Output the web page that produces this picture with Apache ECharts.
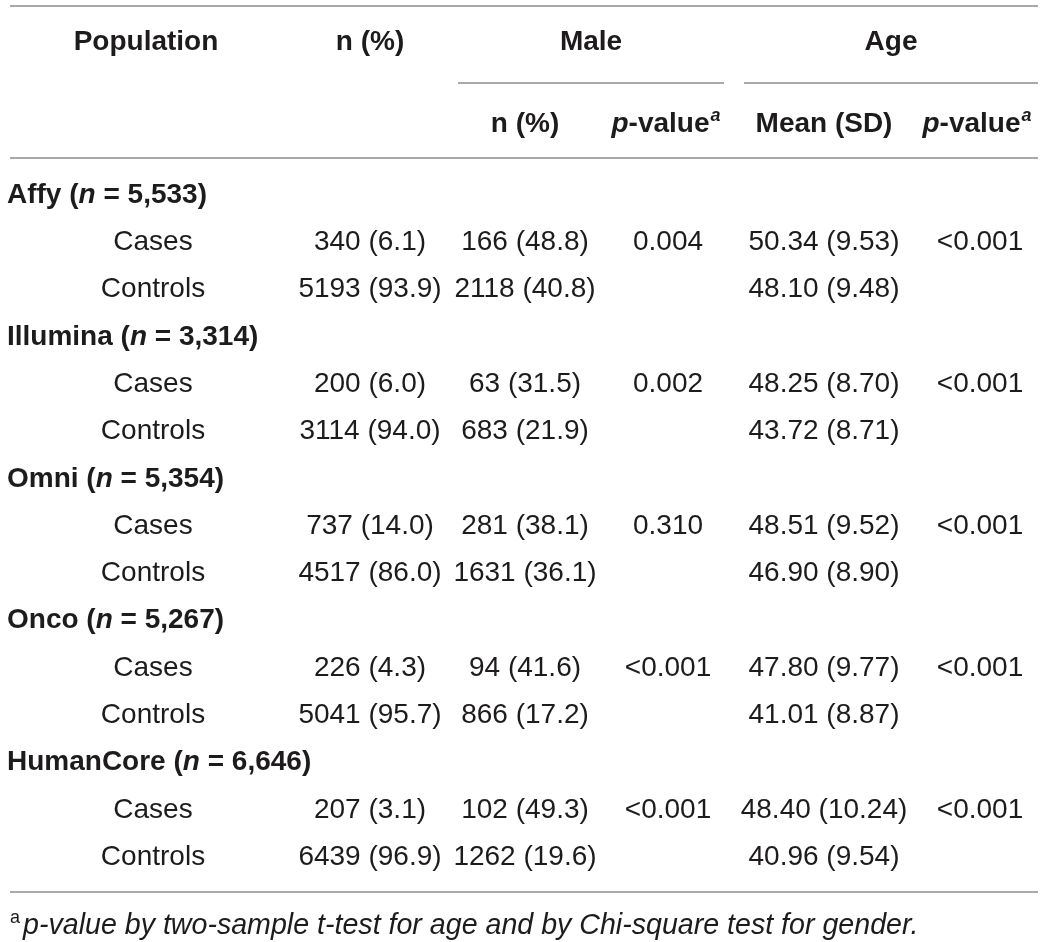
<!DOCTYPE html>
<html>
<head>
<meta charset="utf-8">
<script src="https://cdn.jsdelivr.net/npm/echarts@6/dist/echarts.min.js"></script>
<style>
html,body{margin:0;padding:0;background:#fff;}
#chart{width:1044px;height:942px;}
</style>
</head>
<body>
<div id="chart"></div>
<script>
// ---- Data ----
var groups = ['Affy', 'Illumina', 'Omni', 'Onco', 'HumanCore'];
var groupN = ['5,533', '3,314', '5,354', '5,267', '6,646'];
var rowLabels = ['Cases', 'Controls'];
var casesN = [340, 200, 737, 226, 207];
var casesPct = [6.1, 6.0, 14.0, 4.3, 3.1];
var controlsN = [5193, 3114, 4517, 5041, 6439];
var controlsPct = [93.9, 94.0, 86.0, 95.7, 96.9];
var maleCasesN = [166, 63, 281, 94, 102];
var maleCasesPct = [48.8, 31.5, 38.1, 41.6, 49.3];
var maleControlsN = [2118, 683, 1631, 866, 1262];
var maleControlsPct = [40.8, 21.9, 36.1, 17.2, 19.6];
var maleP = ['0.004', '0.002', '0.310', '<0.001', '<0.001'];
var ageCasesMean = [50.34, 48.25, 48.51, 47.80, 48.40];
var ageCasesSD = [9.53, 8.70, 9.52, 9.77, 10.24];
var ageControlsMean = [48.10, 43.72, 46.90, 41.01, 40.96];
var ageControlsSD = [9.48, 8.71, 8.90, 8.87, 9.54];
var ageP = ['<0.001', '<0.001', '<0.001', '<0.001', '<0.001'];
var headerTop = ['Population', 'n (%)', 'Male', 'Age'];
var headerSub = ['n (%)', 'p-value', 'Mean (SD)', 'p-value'];
var footnote = 'p-value by two-sample t-test for age and by Chi-square test for gender.';

// ---- Layout (positions/styles, not data) ----
var FONT = '"Liberation Sans", Arial, Helvetica, sans-serif';
var TXT = '#1e1b1c';
var RULE = '#8c8c8c';
var colX = {label: 153, nPct: 370, maleN: 525, maleP: 668, ageMean: 824, ageP: 980, groupLeft: 7};
var topX = [146, 370, 591, 891];
var subX = [525, 666, 824, 977];
var yHead1 = 42, yHead2 = 124, yRow0 = 195, rowStep = 47.3, yFoot = 926;

function rowY(i) { return yRow0 + i * rowStep; }
function pct(n, p) { return n + ' (' + p.toFixed(1) + ')'; }
function msd(m, s) { return m.toFixed(2) + ' (' + s.toFixed(2) + ')'; }

var cells = [];
function cell(x, y, text, align) {
  cells.push({value: [x, y], txt: text, label: {align: align || 'center'}});
}

// headers
headerTop.forEach(function (h, i) { cell(topX[i], yHead1, '{b|' + h + '}'); });
headerSub.forEach(function (h, i) {
  if (h.indexOf('p-value') === 0) {
    cell(subX[i], yHead2, '{bi|p}{b|-value}{sup|a}');
  } else {
    cell(subX[i], yHead2, '{b|' + h + '}');
  }
});

// body
groups.forEach(function (g, k) {
  var base = k * 3;
  cell(colX.groupLeft, rowY(base), '{b|' + g + ' (}{bi|n}{b| = ' + groupN[k] + ')}', 'left');
  // cases
  cell(colX.label, rowY(base + 1), rowLabels[0]);
  cell(colX.nPct, rowY(base + 1), pct(casesN[k], casesPct[k]));
  cell(colX.maleN, rowY(base + 1), pct(maleCasesN[k], maleCasesPct[k]));
  cell(colX.maleP, rowY(base + 1), maleP[k]);
  cell(colX.ageMean, rowY(base + 1), msd(ageCasesMean[k], ageCasesSD[k]));
  cell(colX.ageP, rowY(base + 1), ageP[k]);
  // controls
  cell(colX.label, rowY(base + 2), rowLabels[1]);
  cell(colX.nPct, rowY(base + 2), pct(controlsN[k], controlsPct[k]));
  cell(colX.maleN, rowY(base + 2), pct(maleControlsN[k], maleControlsPct[k]));
  cell(colX.ageMean, rowY(base + 2), msd(ageControlsMean[k], ageControlsSD[k]));
});

// footnote
cell(10, yFoot, '{sup2|a}{it|' + footnote + '}', 'left');

var chart = echarts.init(document.getElementById('chart'), null, {renderer: 'canvas'});
chart.setOption({
  backgroundColor: '#ffffff',
  animation: false,
  grid: {left: 0, right: 0, top: 0, bottom: 0},
  xAxis: {type: 'value', min: 0, max: 1044, show: false},
  yAxis: {type: 'value', min: 0, max: 942, inverse: true, show: false},
  series: [{
    type: 'scatter',
    silent: true,
    symbolSize: 0,
    itemStyle: {opacity: 1},
    emphasis: {disabled: true},
    data: cells,
    label: {
      show: true,
      position: 'inside',
      verticalAlign: 'middle',
      color: TXT,
      opacity: 1,
      fontFamily: FONT,
      fontSize: 28,
      lineHeight: 34,
      formatter: function (p) { return cells[p.dataIndex].txt; },
      rich: {
        b: {fontWeight: 'bold', fontSize: 28, fontFamily: FONT, color: TXT, lineHeight: 34},
        bi: {fontWeight: 'bold', fontStyle: 'italic', fontSize: 28, fontFamily: FONT, color: TXT, lineHeight: 34},
        sup: {fontWeight: 'bold', fontStyle: 'italic', fontSize: 18, fontFamily: FONT, color: TXT, lineHeight: 34, verticalAlign: 'top', padding: [0, 0, 0, 1]},
        sup2: {fontSize: 18, fontFamily: FONT, color: TXT, lineHeight: 34, verticalAlign: 'top', padding: [0, 3, 0, 0]},
        it: {fontStyle: 'italic', fontSize: 28.6, fontFamily: FONT, color: TXT, lineHeight: 34}
      }
    },
    markLine: {
      silent: true,
      symbol: 'none',
      animation: false,
      label: {show: false},
      lineStyle: {color: RULE, width: 1.5, type: 'solid'},
      data: [
        [{coord: [10, 6]}, {coord: [1038, 6]}],
        [{coord: [458, 83]}, {coord: [724, 83]}],
        [{coord: [744, 83]}, {coord: [1038, 83]}],
        [{coord: [10, 158]}, {coord: [1038, 158]}],
        [{coord: [10, 892]}, {coord: [1038, 892]}]
      ]
    }
  }]
});
</script>
</body>
</html>
